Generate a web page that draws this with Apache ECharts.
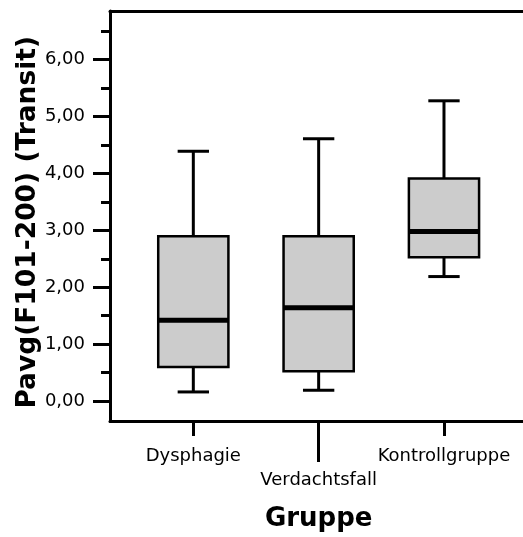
<!DOCTYPE html>
<html>
<head>
<meta charset="utf-8">
<script src="https://cdn.jsdelivr.net/npm/echarts@6/dist/echarts.min.js"></script>
<style>
  html, body { margin: 0; padding: 0; background: #fff; }
  #chart { width: 523px; height: 537px; }
</style>
</head>
<body>
<div id="chart"></div>
<script>
// Groups on the x axis
const categories = ['Dysphagie', 'Verdachtsfall', 'Kontrollgruppe'];

// Five-number summaries per group
const whiskerLow  = [0.135, 0.163, 2.17];
const quartile1   = [0.575, 0.50, 2.51];
const medians     = [1.40, 1.62, 2.965];
const quartile3   = [2.88, 2.88, 3.90];
const whiskerHigh = [4.38, 4.60, 5.27];

// Y axis ticks: labelled majors and unlabelled half steps
const majorTicks = [0, 1, 2, 3, 4, 5, 6];
const minorTicks = [0.5, 1.5, 2.5, 3.5, 4.5, 5.5, 6.5];

const yMin = -0.36;
const yMax = 6.854;

const boxData = categories.map((c, i) => [
  i, whiskerLow[i], quartile1[i], medians[i], quartile3[i], whiskerHigh[i]
]);

const FONT = 'DejaVu Sans';
const INK = '#000000';

function renderBox(params, api) {
  const idx = api.value(0);
  const lo = api.coord([idx, api.value(1)]);
  const q1 = api.coord([idx, api.value(2)]);
  const md = api.coord([idx, api.value(3)]);
  const q3 = api.coord([idx, api.value(4)]);
  const hi = api.coord([idx, api.value(5)]);
  const band = api.size([1, 0])[0];
  const bw = band * 0.56;
  const cw = band * 0.25;
  const cx = md[0];
  const line = (x1, y1, x2, y2, w) => ({
    type: 'line',
    shape: { x1, y1, x2, y2 },
    style: { stroke: INK, lineWidth: w, lineCap: 'butt' }
  });
  return {
    type: 'group',
    children: [
      line(cx, hi[1], cx, q3[1], 3),
      line(cx - cw / 2, hi[1], cx + cw / 2, hi[1], 3),
      line(cx, lo[1], cx, q1[1], 3),
      line(cx - cw / 2, lo[1], cx + cw / 2, lo[1], 3),
      {
        type: 'rect',
        shape: { x: cx - bw / 2, y: q3[1], width: bw, height: q1[1] - q3[1] },
        style: { fill: '#cccccc', stroke: INK, lineWidth: 2.5 }
      },
      line(cx - bw / 2, md[1], cx + bw / 2, md[1], 5)
    ]
  };
}

const chart = echarts.init(document.getElementById('chart'), null, { renderer: 'canvas' });

const fmt = v => v.toFixed(2).replace('.', ',');

chart.setOption({
  animation: false,
  backgroundColor: '#ffffff',
  textStyle: { fontFamily: FONT },
  grid: [
    // frame: left, bottom and top rules with the value ticks
    { left: 110, right: 0, top: 11, bottom: 115.5 },
    // plotting band for the three groups
    { left: 130.65, right: 16.35, top: 11, bottom: 115.5 }
  ],
  xAxis: [
    {
      gridIndex: 0, type: 'value', min: 0, max: 1, position: 'bottom',
      axisLine: { show: true, onZero: false, lineStyle: { color: INK, width: 3 } },
      axisTick: { show: false }, axisLabel: { show: false }, splitLine: { show: false }
    },
    {
      gridIndex: 0, type: 'value', min: 0, max: 1, position: 'top',
      axisLine: { show: true, onZero: false, lineStyle: { color: INK, width: 3 } },
      axisTick: { show: false }, axisLabel: { show: false }, splitLine: { show: false }
    },
    {
      gridIndex: 1, type: 'category', data: categories, position: 'bottom',
      axisLine: { show: false, onZero: false },
      axisTick: {
        show: true, alignWithLabel: true, length: 16,
        interval: (i) => i !== 1,
        lineStyle: { color: INK, width: 3 }
      },
      axisLabel: {
        interval: (i) => i !== 1,
        margin: 27, color: INK, fontSize: 18, fontFamily: FONT
      },
      name: 'Gruppe', nameLocation: 'middle', nameGap: 86,
      nameTextStyle: { fontFamily: FONT, fontWeight: 'bold', fontSize: 26, color: INK }
    },
    {
      gridIndex: 1, type: 'category', data: categories, position: 'bottom',
      axisLine: { show: false, onZero: false },
      axisTick: {
        show: true, alignWithLabel: true, length: 42,
        interval: (i) => i === 1,
        lineStyle: { color: INK, width: 3 }
      },
      axisLabel: {
        interval: (i) => i === 1,
        margin: 51, color: INK, fontSize: 18, fontFamily: FONT
      }
    }
  ],
  yAxis: [
    {
      gridIndex: 0, type: 'value', min: yMin, max: yMax, position: 'left',
      axisLine: { show: true, onZero: false, lineStyle: { color: INK, width: 3 } },
      axisTick: { show: true, customValues: majorTicks, length: 17, lineStyle: { color: INK, width: 3 } },
      axisLabel: {
        customValues: majorTicks, formatter: fmt, margin: 25,
        color: INK, fontSize: 18, fontFamily: FONT
      },
      splitLine: { show: false },
      name: 'Pavg(F101-200) (Transit)', nameLocation: 'middle', nameGap: 68,
      nameMoveOverlap: false,
      nameTextStyle: {
        fontFamily: FONT, fontWeight: 'bold', fontSize: 26.5, color: INK,
        padding: [0, 12, 0, 0]
      }
    },
    {
      gridIndex: 0, type: 'value', min: yMin, max: yMax, position: 'left',
      axisLine: { show: false, onZero: false },
      axisTick: { show: true, customValues: minorTicks, length: 9, lineStyle: { color: INK, width: 3 } },
      axisLabel: { show: false },
      splitLine: { show: false }
    },
    {
      gridIndex: 1, type: 'value', min: yMin, max: yMax, show: false
    }
  ],
  series: [
    {
      type: 'custom',
      xAxisIndex: 2,
      yAxisIndex: 2,
      renderItem: renderBox,
      encode: { x: 0, y: [1, 2, 3, 4, 5] },
      data: boxData,
      clip: false
    }
  ]
});
</script>
</body>
</html>
